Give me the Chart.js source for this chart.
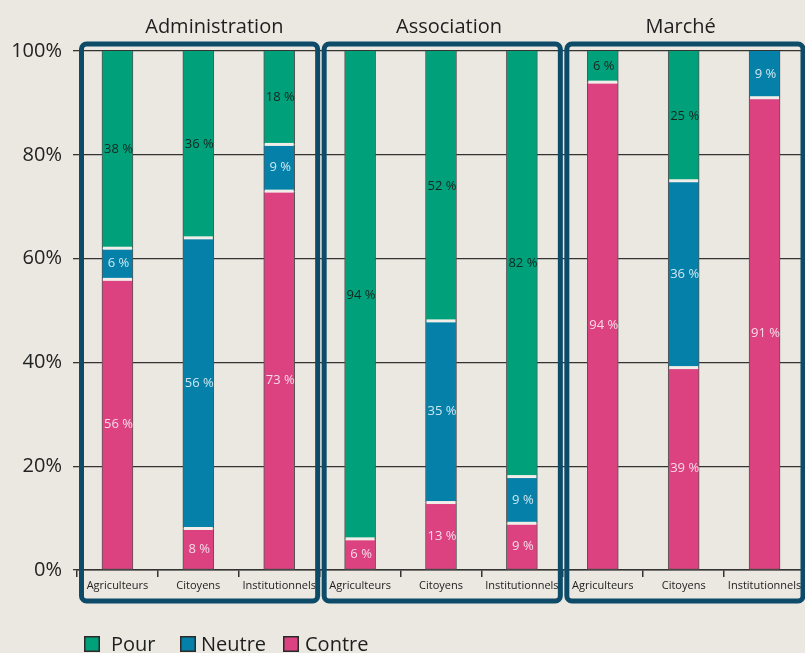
<!DOCTYPE html>
<html>
<head>
<meta charset="utf-8">
<script src="https://cdn.jsdelivr.net/npm/chart.js@4.4.1/dist/chart.umd.min.js"></script>
<style>
  html, body { margin: 0; padding: 0; background: #ebe8e2; }
  canvas { display: block; }
</style>
</head>
<body>
<canvas id="c" width="805" height="653"></canvas>
<script>
const categories = ['Agriculteurs', 'Citoyens', 'Institutionnels',
                    'Agriculteurs', 'Citoyens', 'Institutionnels',
                    'Agriculteurs', 'Citoyens', 'Institutionnels'];
const groups = ['Administration', 'Association', 'Marché'];
const pour   = [38, 36, 18, 94, 52, 82,  6, 25,  0];
const neutre = [ 6, 56,  9,  0, 35,  9,  0, 36,  9];
const contre = [56,  8, 73,  6, 13,  9, 94, 39, 91];
const yTicks = [0, 20, 40, 60, 80, 100];

const C_POUR = '#00a07b', C_NEUTRE = '#0580a9', C_CONTRE = '#dc4280';
const FRAME = '#0d4b68';
const FONT = "'Open Sans', 'DejaVu Sans', sans-serif";

const overlay = {
  id: 'overlay',
  afterDatasetsDraw(chart) {
    const ctx = chart.ctx;
    const metas = [0, 1, 2].map(i => chart.getDatasetMeta(i));
    // separators between segments
    ctx.save();
    for (let j = 0; j < categories.length; j++) {
      let cum = 0;
      const vals = [contre[j], neutre[j], pour[j]];
      for (let k = 0; k < 2; k++) {
        cum += vals[k];
        if (vals[k] > 0 && cum < 100) {
          const bar = metas[k].data[j];
          const y = chart.scales.y.getPixelForValue(cum);
          ctx.fillStyle = '#f1eee9';
          ctx.fillRect(bar.x - bar.width / 2 + 1, y - 1.5, bar.width - 2, 3);
        }
      }
    }
    // data labels
    ctx.font = '13px ' + FONT;
    ctx.textAlign = 'center';
    ctx.textBaseline = 'middle';
    const colors = ['#f7dbe7', '#cfe7f1', '#15261f'];
    metas.forEach((meta, k) => {
      const ds = chart.data.datasets[k].data;
      meta.data.forEach((bar, j) => {
        if (!ds[j]) return;
        ctx.fillStyle = colors[k];
        ctx.fillText(ds[j] + ' %', bar.x + 1, (bar.y + bar.base) / 2);
      });
    });
    ctx.restore();
  },
  afterDraw(chart) {
    const ctx = chart.ctx;
    const x = chart.scales.x;
    const area = chart.chartArea;
    const step = x.getPixelForValue(1) - x.getPixelForValue(0);
    ctx.save();
    // frames
    ctx.strokeStyle = FRAME;
    ctx.lineWidth = 5;
    const titleOffsets = [16, 8, -3];
    groups.forEach((g, i) => {
      const b0 = x.getPixelForValue(i * 3) - step / 2;
      const b1 = x.getPixelForValue(i * 3 + 2) + step / 2;
      const left = b0 + 4.5;
      const right = Math.min(b1 - 2, 803);
      const top = area.top - 7;
      const bottom = area.bottom + 31;
      ctx.beginPath();
      ctx.roundRect(left, top, right - left, bottom - top, 5);
      ctx.stroke();
      // titles
      ctx.fillStyle = '#1e1e1e';
      ctx.font = '20px ' + FONT;
      ctx.textAlign = 'center';
      ctx.textBaseline = 'alphabetic';
      ctx.fillText(g, x.getPixelForValue(i * 3 + 1) + titleOffsets[i], 33);
    });
    // legend
    const items = [['Pour', C_POUR, 84, 111], ['Neutre', C_NEUTRE, 180, 201], ['Contre', C_CONTRE, 283, 305]];
    ctx.font = '20px ' + FONT;
    ctx.textAlign = 'left';
    items.forEach(([t, c, sx, tx]) => {
      ctx.fillStyle = c;
      ctx.fillRect(sx, 636, 16, 16);
      ctx.strokeStyle = '#2a2a2a';
      ctx.lineWidth = 1.5;
      ctx.strokeRect(sx + 0.75, 636.75, 14.5, 14.5);
      ctx.fillStyle = '#1e1e1e';
      ctx.fillText(t, tx, 651);
    });
    ctx.restore();
  }
};

const barBorder = { left: 1, right: 1, top: 0, bottom: 1 };
new Chart(document.getElementById('c'), {
  type: 'bar',
  data: {
    labels: categories,
    datasets: [
      { label: 'Contre', data: contre, backgroundColor: C_CONTRE },
      { label: 'Neutre', data: neutre, backgroundColor: C_NEUTRE },
      { label: 'Pour', data: pour, backgroundColor: C_POUR }
    ].map(d => Object.assign(d, {
      barThickness: 31, borderColor: '#555', borderWidth: barBorder, borderSkipped: false
    }))
  },
  options: {
    responsive: false,
    animation: false,
    devicePixelRatio: 1,
    layout: { padding: { top: 51, right: 0, left: 0, bottom: 0 } },
    plugins: { legend: { display: false }, tooltip: { enabled: false } },
    scales: {
      x: {
        stacked: true,
        grid: { drawOnChartArea: false, tickLength: 7, color: '#333', lineWidth: 1.5 },
        border: { color: '#333', width: 1.5 },
        ticks: { font: { family: FONT, size: 11 }, color: '#222', padding: 2, maxRotation: 0, autoSkip: false },
        afterFit: s => { s.height = 83; }
      },
      y: {
        stacked: true,
        min: 0, max: 100,
        afterBuildTicks: s => { s.ticks = yTicks.map(v => ({ value: v })); },
        ticks: { callback: v => v + '%', font: { family: FONT, size: 20 }, color: '#222', padding: 11 },
        grid: { color: '#333', lineWidth: 1.3, tickLength: 4 },
        border: { display: false },
        afterFit: s => { s.width = 77; }
      }
    }
  },
  plugins: [overlay]
});
</script>
</body>
</html>
